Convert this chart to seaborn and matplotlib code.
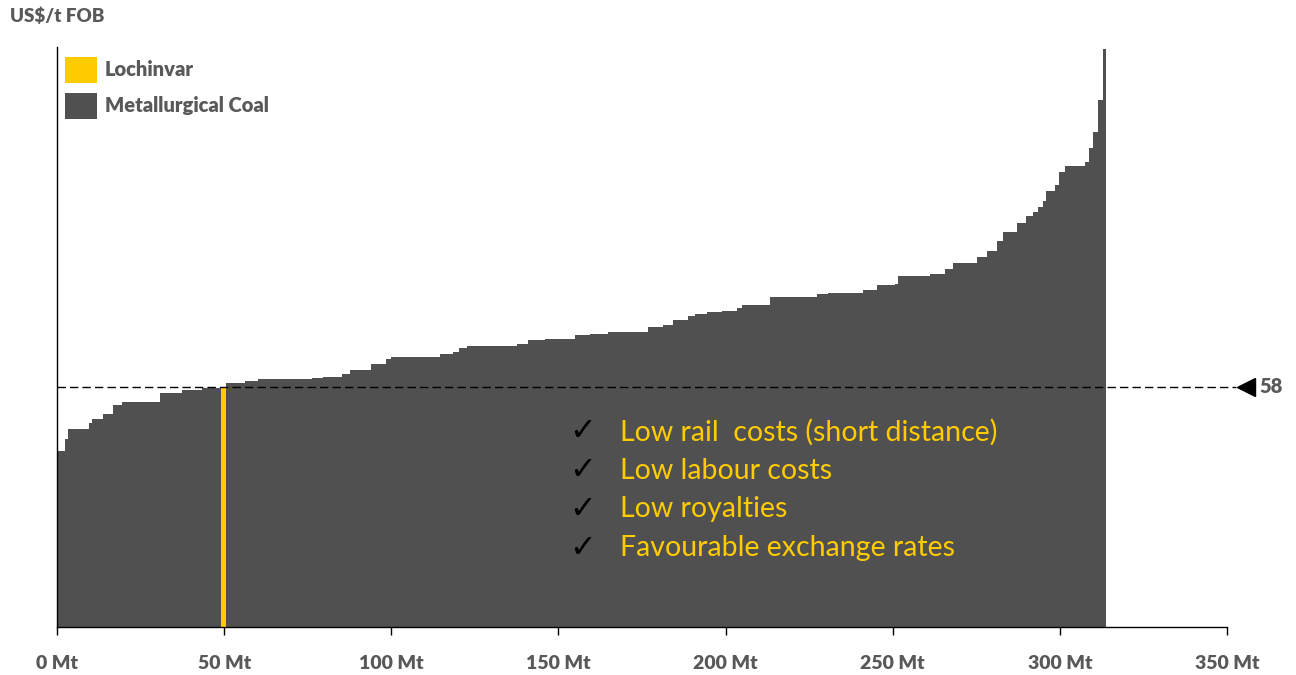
import numpy as np
import pandas as pd
import matplotlib
matplotlib.use("Agg")
import matplotlib.pyplot as plt
from matplotlib import font_manager as fm
from matplotlib.patches import Patch
import seaborn as sns

# ---- data: metallurgical coal cost curve (US$/t FOB vs cumulative Mt) ----
tonnage_mt = [2.4, 0.9, 6.3, 0.9, 3.3, 3.0, 2.6, 11.4, 6.6, 6.0, 5.7,
              1.5,
              5.6, 3.9, 16.2, 3.3, 5.7, 2.3, 6.3, 4.5, 1.5, 14.7, 3.9, 1.8,
              2.3, 15.0, 3.3, 5.1, 9.0, 4.4, 5.4, 12.0, 4.5, 3.0, 4.5, 2.0,
              3.6, 4.5, 4.5, 1.5, 8.4, 14.0, 3.3, 10.5, 4.2, 5.4, 0.9, 9.5,
              4.5, 2.4, 7.2, 3.0, 3.0, 1.8, 4.2, 2.7, 2.1, 1.4, 1.5, 0.9,
              2.7, 1.2, 1.8, 6.0, 1.2, 1.2, 1.5, 1.5, 0.9]
cost_usd_t = [42.6, 45.5, 47.9, 49.3, 50.1, 51.5, 53.7, 54.4, 56.6, 57.3, 57.8,
              58.0,
              59.0, 59.4, 59.8, 60.1, 60.4, 61.1, 62.0, 63.6, 64.7, 65.2, 65.9,
              66.4, 67.3, 67.9, 68.4, 69.2, 69.6, 70.5, 70.8, 71.1, 72.3, 72.9,
              74.1, 75.1, 75.6, 76.0, 76.3, 77.0, 77.7, 79.7, 80.5, 80.7, 81.3,
              82.5, 82.9, 84.7, 85.1, 86.5, 87.8, 89.3, 90.7, 93.1, 95.3, 97.5,
              99.2, 100.1, 101.3, 102.8, 105.3, 106.8, 109.8, 111.2, 112.2,
              115.6, 119.6, 127.1, 139.5]
lochinvar_index = 11
lochinvar_cost = cost_usd_t[lochinvar_index]

x_ticks = [0, 50, 100, 150, 200, 250, 300, 350]
x_tick_labels = [f"{v} Mt" for v in x_ticks]
advantages = ["Low rail  costs (short distance)", "Low labour costs",
              "Low royalties", "Favourable exchange rates"]

# ---- derived table ----
edges = [0.0] + [float(v) for v in np.cumsum(tonnage_mt)]
df = pd.DataFrame({
    "start": edges[:-1],
    "end": edges[1:],
    "cost": cost_usd_t,
})
df["mid"] = (df["start"] + df["end"]) / 2

# ---- style ----
sns.set_style("white")
plt.rcParams["font.family"] = ["Lato", "DejaVu Sans"]


def _has_bold(family):
    for f in fm.fontManager.ttflist:
        if f.name == family:
            w = f.weight
            if isinstance(w, str):
                if w in ("bold", "heavy", "black", "extra bold", "semibold", "demibold"):
                    return True
            elif w >= 600:
                return True
    return False


BOLD_FAMILY = next(f for f in ["Lato", "Open Sans", "Roboto", "Noto Sans", "DejaVu Sans"]
                   if _has_bold(f))
BOLD = dict(family=[BOLD_FAMILY, "DejaVu Sans"], fontweight="heavy")

GREY_TXT = "#595959"
BAR = "#505050"
GOLD = "#FFCC00"

fig = plt.figure(figsize=(12.96, 6.75), dpi=100)
ax = fig.add_axes([57 / 1296, 1 - 627 / 675, 1170 / 1296, 580 / 675])

# cost curve: each mine is a bar whose width is its tonnage
sns.histplot(data=df, x="mid", weights="cost", bins=edges, ax=ax,
             color=BAR, alpha=1, linewidth=0, antialiased=False, stat="count")
loch = df.iloc[[lochinvar_index]]
sns.histplot(data=loch, x="mid", weights="cost",
             bins=[float(loch["start"].iloc[0]), float(loch["end"].iloc[0])],
             ax=ax, color=GOLD, alpha=1, linewidth=0, antialiased=False,
             stat="count")

ax.set_xlim(0, 350)
ax.set_ylim(0, 140)
ax.set_xlabel("")
ax.set_ylabel("")
ax.set_yticks([])
ax.set_xticks(x_ticks)
ax.set_xticklabels(x_tick_labels, fontsize=14, color=GREY_TXT, **BOLD)
ax.tick_params(axis="x", direction="out", length=6, width=1, color="black",
               pad=14, bottom=True)
for side in ["top", "right"]:
    ax.spines[side].set_visible(False)
for side in ["left", "bottom"]:
    ax.spines[side].set_color("black")
    ax.spines[side].set_linewidth(1.0)

# Lochinvar cost reference line with marker and label
ax.plot([0, 352.7], [lochinvar_cost, lochinvar_cost], color="black", lw=1.0,
        dashes=(6, 3), clip_on=False, zorder=5)
ax.plot([355.6], [lochinvar_cost], marker="<", markersize=13, color="black",
        clip_on=False, zorder=6)
ax.text(359.6, lochinvar_cost, f"{lochinvar_cost:g}", va="center", ha="left",
        fontsize=14.5, color=GREY_TXT, clip_on=False, **BOLD)

# advantages list
y0, dy = 47.1, 9.35
for i, line in enumerate(advantages):
    y = y0 - i * dy
    ax.text(157.3, y, "\u2713", ha="center", va="center", fontsize=23,
            color="black", family=["DejaVu Sans"])
    ax.text(168.4, y, line, ha="left", va="center", fontsize=20.5,
            color=GOLD)

# legend
handles = [Patch(facecolor=GOLD, edgecolor="none", label="Lochinvar"),
           Patch(facecolor=BAR, edgecolor="none", label="Metallurgical Coal")]
leg = ax.legend(handles=handles, loc="upper left", bbox_to_anchor=(0.007, 0.983),
                frameon=False, borderpad=0, borderaxespad=0,
                prop=dict(family=[BOLD_FAMILY, "DejaVu Sans"], weight="heavy",
                          size=14.5),
                handlelength=1.58, handleheight=1.6, labelspacing=0.5,
                handletextpad=0.4)
for t in leg.get_texts():
    t.set_color(GREY_TXT)

fig.text(10 / 1296, 1 - 16 / 675, "US$/t FOB", ha="left", va="center",
         fontsize=13.5, color=GREY_TXT, **BOLD)

fig.savefig("out.png", dpi=100, facecolor="white")
